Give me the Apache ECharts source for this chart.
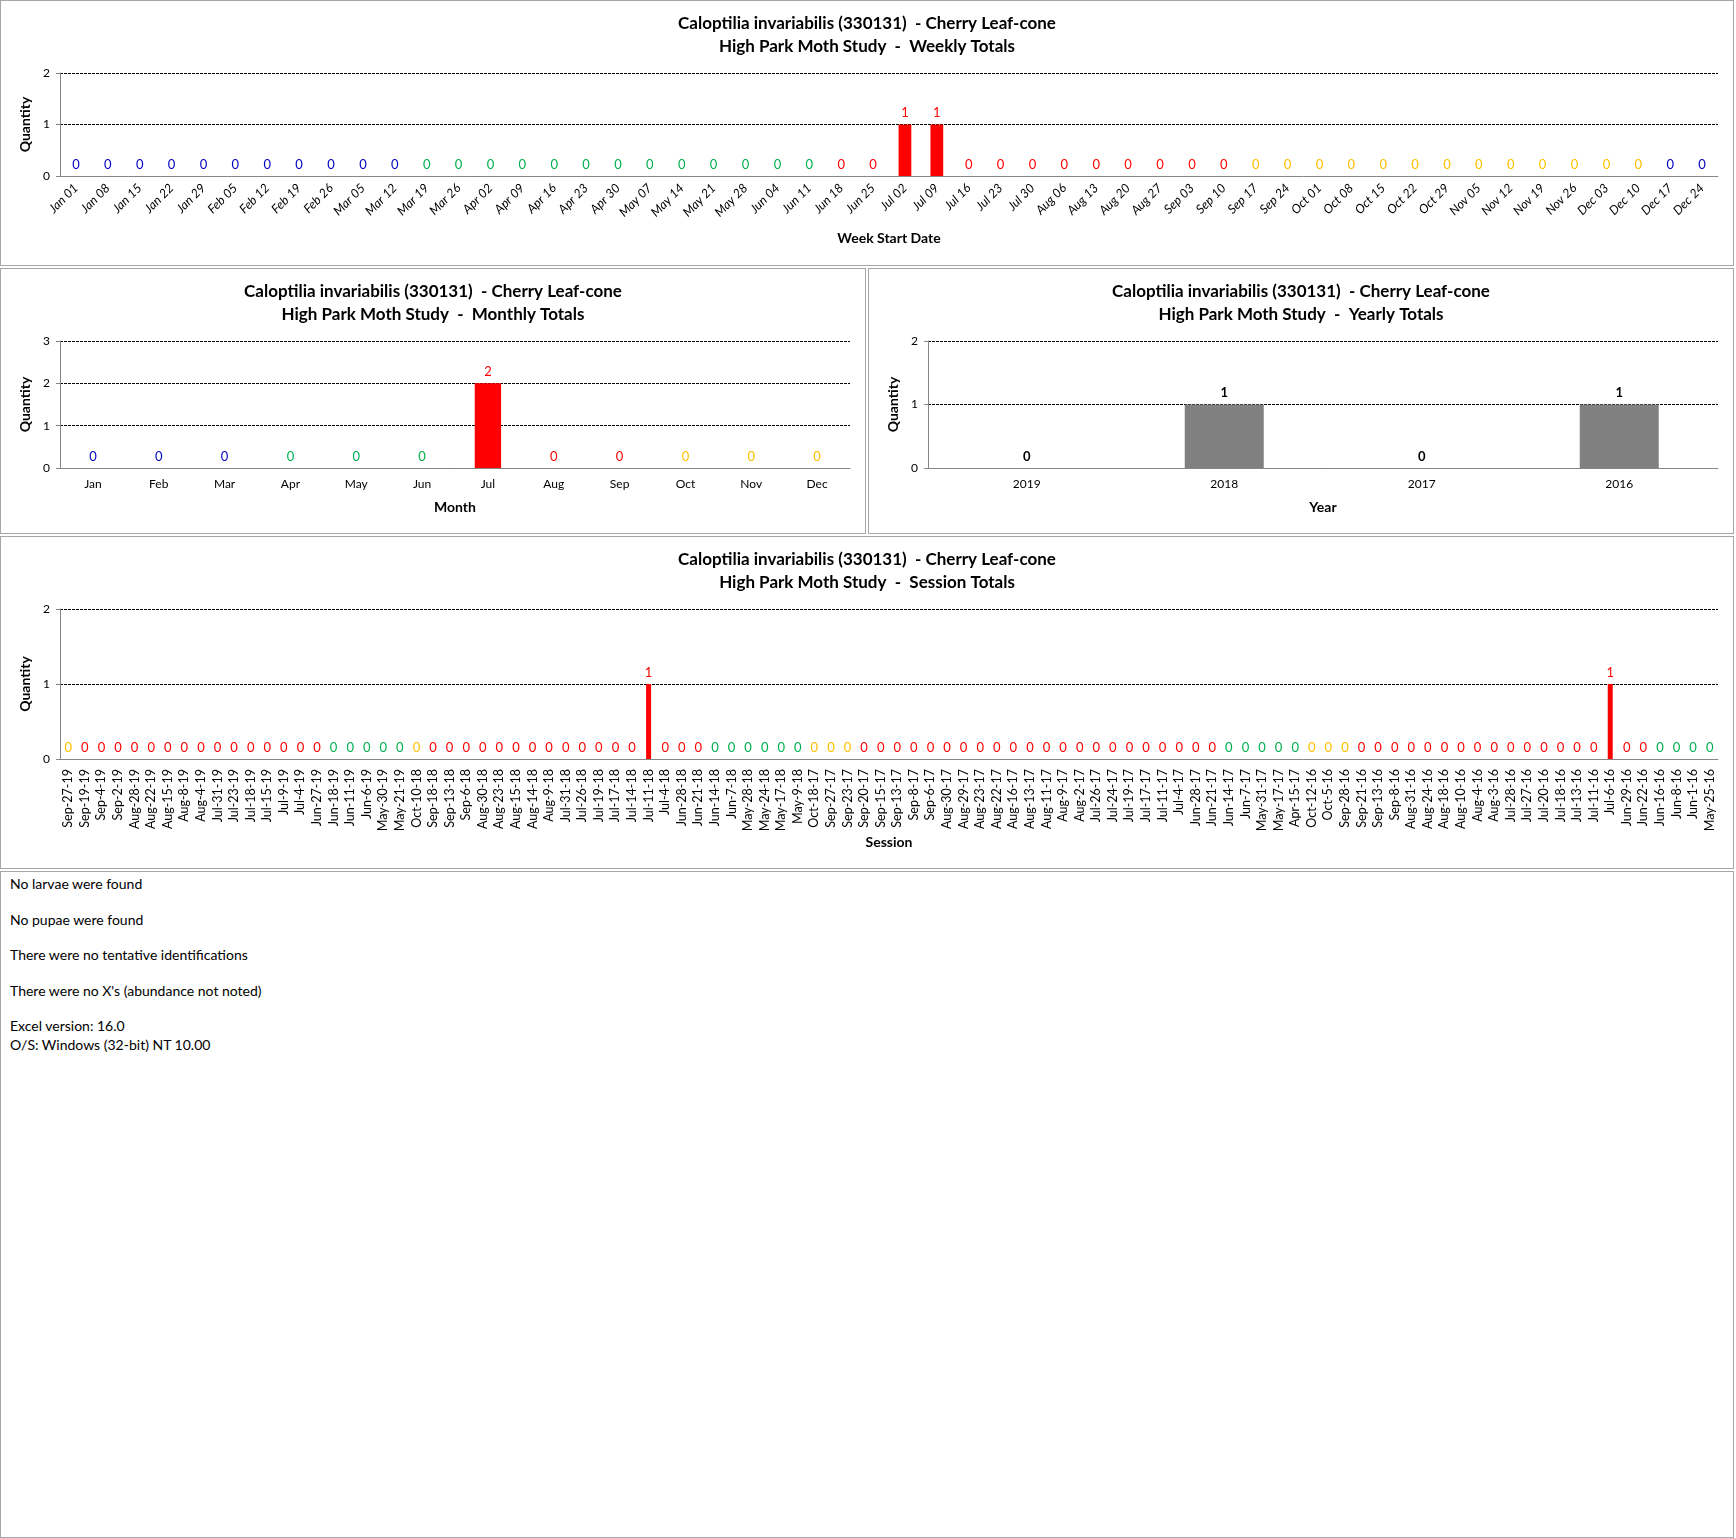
<!DOCTYPE html>
<html>
<head>
<meta charset="utf-8">
<title>Caloptilia invariabilis (330131) - Cherry Leaf-cone</title>
<script src="https://cdn.jsdelivr.net/npm/echarts@6/dist/echarts.min.js"></script>
<style>
    body { margin: 0; background: #fff; font-family: Lato, "Noto Sans", sans-serif; }
    .panel { position: absolute; border: 1px solid #a6a6a6; box-sizing: border-box; background: #fff; }
    #footer { padding: 2px 9px; font-size: 14px; color: #000; }
    #footer p { margin: 0; height: 35.6px; line-height: 20px; }
    #footer p.tight { height: 19px; }
</style>
</head>
<body>
<div id="weekChart" class="panel" style="left:0;top:0;width:1734px;height:266px"></div>
<div id="monthChart" class="panel" style="left:0;top:268px;width:866px;height:266px"></div>
<div id="yearChart" class="panel" style="left:868px;top:268px;width:866px;height:266px"></div>
<div id="sessionChart" class="panel" style="left:0;top:536px;width:1734px;height:333px"></div>
<div id="footer" class="panel" style="left:0;top:871px;width:1734px;height:667px">
    <p>No larvae were found</p>
    <p>No pupae were found</p>
    <p>There were no tentative identifications</p>
    <p>There were no X's (abundance not noted)</p>
    <p class="tight">Excel version: 16.0</p>
    <p class="tight">O/S: Windows (32-bit) NT 10.00</p>
</div>
<script>
var speciesTitle = 'Caloptilia invariabilis (330131)  - Cherry Leaf-cone';

//weekly
var weekLabels = ['Jan 01','Jan 08','Jan 15','Jan 22','Jan 29','Feb 05','Feb 12','Feb 19','Feb 26','Mar 05',
    'Mar 12','Mar 19','Mar 26','Apr 02','Apr 09','Apr 16','Apr 23','Apr 30','May 07','May 14',
    'May 21','May 28','Jun 04','Jun 11','Jun 18','Jun 25','Jul 02','Jul 09','Jul 16','Jul 23',
    'Jul 30','Aug 06','Aug 13','Aug 20','Aug 27','Sep 03','Sep 10','Sep 17','Sep 24','Oct 01',
    'Oct 08','Oct 15','Oct 22','Oct 29','Nov 05','Nov 12','Nov 19','Nov 26','Dec 03','Dec 10',
    'Dec 17','Dec 24'];
var weekValues = [0,0,0,0,0,0,0,0,0,0, 0,0,0,0,0,0,0,0,0,0, 0,0,0,0,0,0,1,1,0,0,
    0,0,0,0,0,0,0,0,0,0, 0,0,0,0,0,0,0,0,0,0, 0,0];
// W=winter Sp=spring S=summer A=autumn
var weekSeasons = ['W','W','W','W','W','W','W','W','W','W', 'W','Sp','Sp','Sp','Sp','Sp','Sp','Sp','Sp','Sp',
    'Sp','Sp','Sp','Sp','S','S','S','S','S','S', 'S','S','S','S','S','S','S','A','A','A',
    'A','A','A','A','A','A','A','A','A','A', 'W','W'];

//monthly
var monthLabels = ['Jan','Feb','Mar','Apr','May','Jun','Jul','Aug','Sep','Oct','Nov','Dec'];
var monthValues = [0,0,0,0,0,0,2,0,0,0,0,0];
var monthSeasons = ['W','W','W','Sp','Sp','Sp','S','S','S','A','A','A'];

//yearly
var yearLabels = ['2019','2018','2017','2016'];
var yearValues = [0,1,0,1];

//sessions
var sessionLabels = ['Sep-27-19','Sep-19-19','Sep-4-19','Sep-2-19','Aug-28-19','Aug-22-19','Aug-15-19','Aug-8-19','Aug-4-19','Jul-31-19',
    'Jul-23-19','Jul-18-19','Jul-15-19','Jul-9-19','Jul-4-19','Jun-27-19','Jun-18-19','Jun-11-19','Jun-6-19','May-30-19',
    'May-21-19','Oct-10-18','Sep-18-18','Sep-13-18','Sep-6-18','Aug-30-18','Aug-23-18','Aug-15-18','Aug-14-18','Aug-9-18',
    'Jul-31-18','Jul-26-18','Jul-19-18','Jul-17-18','Jul-14-18','Jul-11-18','Jul-4-18','Jun-28-18','Jun-21-18','Jun-14-18',
    'Jun-7-18','May-28-18','May-24-18','May-17-18','May-9-18','Oct-18-17','Sep-27-17','Sep-23-17','Sep-20-17','Sep-15-17',
    'Sep-13-17','Sep-8-17','Sep-6-17','Aug-30-17','Aug-29-17','Aug-23-17','Aug-22-17','Aug-16-17','Aug-13-17','Aug-11-17',
    'Aug-9-17','Aug-2-17','Jul-26-17','Jul-24-17','Jul-19-17','Jul-17-17','Jul-11-17','Jul-4-17','Jun-28-17','Jun-21-17',
    'Jun-14-17','Jun-7-17','May-31-17','May-17-17','Apr-15-17','Oct-12-16','Oct-5-16','Sep-28-16','Sep-21-16','Sep-13-16',
    'Sep-8-16','Aug-31-16','Aug-24-16','Aug-18-16','Aug-10-16','Aug-4-16','Aug-3-16','Jul-28-16','Jul-27-16','Jul-20-16',
    'Jul-18-16','Jul-13-16','Jul-11-16','Jul-6-16','Jun-29-16','Jun-22-16','Jun-16-16','Jun-8-16','Jun-1-16','May-25-16'];
var sessionValues = [0,0,0,0,0,0,0,0,0,0, 0,0,0,0,0,0,0,0,0,0,
    0,0,0,0,0,0,0,0,0,0, 0,0,0,0,0,1,0,0,0,0,
    0,0,0,0,0,0,0,0,0,0, 0,0,0,0,0,0,0,0,0,0,
    0,0,0,0,0,0,0,0,0,0, 0,0,0,0,0,0,0,0,0,0,
    0,0,0,0,0,0,0,0,0,0, 0,0,0,1,0,0,0,0,0,0];
var sessionSeasons = ['A','S','S','S','S','S','S','S','S','S', 'S','S','S','S','S','S','Sp','Sp','Sp','Sp',
    'Sp','A','S','S','S','S','S','S','S','S', 'S','S','S','S','S','S','S','S','S','Sp',
    'Sp','Sp','Sp','Sp','Sp','A','A','A','S','S', 'S','S','S','S','S','S','S','S','S','S',
    'S','S','S','S','S','S','S','S','S','S', 'Sp','Sp','Sp','Sp','Sp','A','A','A','S','S',
    'S','S','S','S','S','S','S','S','S','S', 'S','S','S','S','S','S','Sp','Sp','Sp','Sp'];

var seasonColors = { W: '#0000c0', Sp: '#00b050', S: '#ff0000', A: '#ffc000' };
var fontName = 'Lato';

function buildData(values, seasons) {
    var data = [];
    for (var i = 0; i < values.length; i++) {
        var c = seasons ? seasonColors[seasons[i]] : '#000';
        data.push({
            value: values[i],
            itemStyle: { color: seasons ? c : '#808080' },
            label: { color: c }
        });
    }
    return data;
}

function renderBarChart(domId, label, xName, categories, values, seasons, cfg) {
    var chart = echarts.init(document.getElementById(domId));
    var option = {
        animation: false,
        textStyle: { fontFamily: fontName },
        title: {
            text: speciesTitle + '\nHigh Park Moth Study  -  ' + label,
            left: 'center',
            top: 6,
            textStyle: { fontFamily: fontName, fontSize: 17, fontWeight: 'bold', color: '#000', lineHeight: 23 }
        },
        grid: {
            left: 59,
            right: 15,
            top: 72,
            bottom: cfg.bottom
        },
        xAxis: {
            type: 'category',
            data: categories,
            name: xName,
            nameLocation: 'middle',
            nameGap: cfg.nameGap,
            nameTextStyle: { fontFamily: fontName, fontSize: 14, fontWeight: 'bold', color: '#000' },
            axisLine: { lineStyle: { color: '#868686' } },
            axisTick: { interval: 0, length: 5, lineStyle: { color: '#868686' } },
            axisLabel: {
                interval: 0,
                rotate: cfg.rotate,
                fontStyle: cfg.italic ? 'italic' : 'normal',
                fontSize: cfg.labelSize || 12,
                color: '#000',
                margin: 10
            }
        },
        yAxis: {
            type: 'value',
            min: 0,
            max: cfg.max,
            interval: 1,
            name: 'Quantity',
            nameLocation: 'middle',
            nameGap: 24,
            nameTextStyle: { fontFamily: fontName, fontSize: 14, fontWeight: 'bold', color: '#000' },
            axisLine: { show: true, lineStyle: { color: '#868686' } },
            axisTick: { show: true, length: 4, lineStyle: { color: '#868686' } },
            axisLabel: { fontSize: 12, color: '#000', margin: 10 },
            splitLine: { lineStyle: { color: '#000', type: [3, 1], width: 1 } }
        },
        series: [{
            type: 'bar',
            barWidth: cfg.barWidth,
            data: buildData(values, seasons),
            label: {
                show: true,
                position: 'top',
                distance: 5,
                fontSize: 13,
                fontWeight: cfg.boldLabel ? 'bold' : 'normal'
            }
        }]
    };
    chart.setOption(option);
}

function renderWeekChart() {
    renderBarChart('weekChart', 'Weekly Totals', 'Week Start Date', weekLabels, weekValues, weekSeasons,
        { bottom: 89, nameGap: 55, rotate: 45, italic: true, max: 2, barWidth: '40%', labelSize: 12.5 });
}

function renderMonthChart() {
    renderBarChart('monthChart', 'Monthly Totals', 'Month', monthLabels, monthValues, monthSeasons,
        { bottom: 65, nameGap: 32, rotate: 0, max: 3, barWidth: '40%' });
}

function renderYearChart() {
    renderBarChart('yearChart', 'Yearly Totals', 'Year', yearLabels, yearValues, null,
        { bottom: 65, nameGap: 32, rotate: 0, max: 2, barWidth: '40%', boldLabel: true });
}

function renderSessionChart() {
    renderBarChart('sessionChart', 'Session Totals', 'Session', sessionLabels, sessionValues, sessionSeasons,
        { bottom: 109, nameGap: 75, rotate: 90, max: 2, barWidth: '30%', labelSize: 12.5 });
}

renderWeekChart();
renderMonthChart();
renderYearChart();
renderSessionChart();
</script>
</body>
</html>
